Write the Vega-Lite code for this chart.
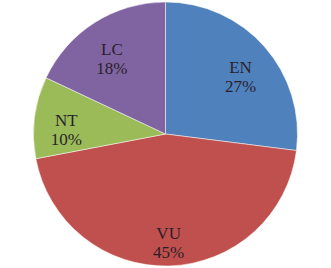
{
  "$schema": "https://vega.github.io/schema/vega-lite/v6.json",
  "width": 331,
  "height": 268,
  "autosize": {"type": "fit", "contains": "padding"},
  "padding": 0,
  "background": "white",
  "view": {"stroke": null},
  "data": {"values": [
    {"cat": "EN", "value": 27, "ord": 1, "label": "EN\n27%"},
    {"cat": "VU", "value": 45, "ord": 2, "label": "VU\n45%"},
    {"cat": "NT", "value": 10, "ord": 3, "label": "NT\n10%"},
    {"cat": "LC", "value": 18, "ord": 4, "label": "LC\n18%"}
  ]},
  "encoding": {
    "theta": {"field": "value", "type": "quantitative", "stack": true},
    "order": {"field": "ord", "type": "quantitative"}
  },
  "layer": [
    {
      "mark": {"type": "arc", "outerRadius": 132, "stroke": "#ffffff", "strokeWidth": 0.5},
      "encoding": {
        "color": {"field": "cat", "type": "nominal", "legend": null,
          "scale": {"domain": ["EN", "VU", "NT", "LC"], "range": ["#4F81BD", "#C0504D", "#9BBB59", "#8064A2"]}}
      }
    },
    {
      "mark": {"type": "text", "radius": 100, "font": "Liberation Serif", "fontSize": 17, "lineBreak": "\n", "lineHeight": 19, "color": "#2a1f2a", "align": "center", "baseline": "middle"},
      "encoding": {
        "text": {"field": "label", "type": "nominal"}
      }
    }
  ]
}
